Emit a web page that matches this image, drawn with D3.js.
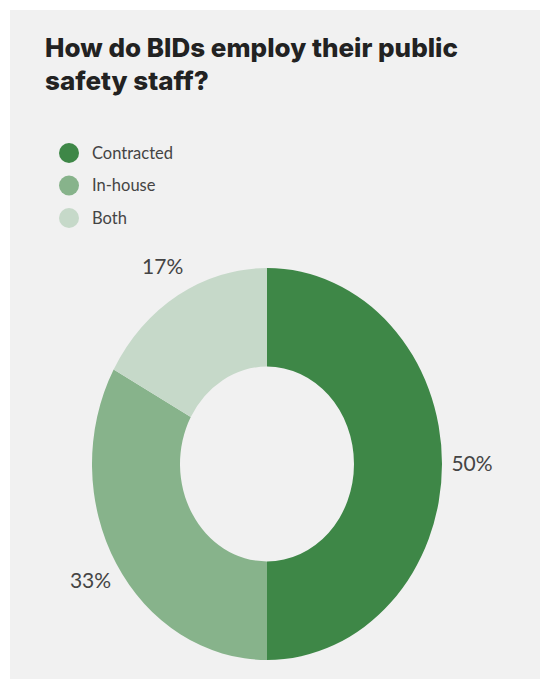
<!DOCTYPE html>
<html>
<head>
<meta charset="utf-8">
<script src="https://cdn.jsdelivr.net/npm/d3@7"></script>
<style>
    html, body { margin: 0; padding: 0; background: #ffffff; }
    svg { display: block; }
</style>
</head>
<body>
<div id="chart"></div>
<script>
const categories = ["Contracted", "In-house", "Both"];
const shares = [50, 33, 17];
const colors = ["#3e8747", "#87b38b", "#c6d9c9"];
const titleLines = ["How do BIDs employ their public", "safety staff?"];

const W = 540, H = 679;
const cx = 267, cy = 464;
const outerR = 175, innerR = 87;
const stretch = 1.12; // the picture is a bit taller than wide

const svg = d3.select('#chart')
    .append('svg')
    .attr('width', W)
    .attr('height', H);

// grey panel
svg.append('rect')
    .attr('x', 10)
    .attr('y', 10)
    .attr('width', W - 10)
    .attr('height', H - 10)
    .attr('fill', '#f1f1f1');

// title
svg.append('text')
    .attr('x', 45)
    .attr('y', 57)
    .style('font-family', 'Inter, sans-serif')
    .style('font-weight', '800')
    .style('font-size', '26px')
    .attr('fill', '#222')
    .selectAll('tspan')
    .data(titleLines)
    .enter().append('tspan')
    .attr('x', 45)
    .attr('dy', (d, i) => i === 0 ? 0 : 33)
    .text(d => d);

// legend
const legend = svg.append('g')
    .selectAll('g')
    .data(categories)
    .enter().append('g')
    .attr('transform', (d, i) => `translate(69,${153 + i * 32.5})`);

legend.append('circle')
    .attr('r', 10)
    .attr('fill', (d, i) => colors[i]);

legend.append('text')
    .attr('x', 23)
    .attr('dy', '0.35em')
    .style('font-family', 'Lato, sans-serif')
    .style('font-size', '16.5px')
    .attr('fill', '#444')
    .text(d => d);

// donut
const pie = d3.pie().sort(null).value(d => d);
const arcs = pie(shares);
const arc = d3.arc().innerRadius(innerR).outerRadius(outerR);

const donut = svg.append('g')
    .attr('transform', `translate(${cx},${cy}) scale(1,${stretch})`);

donut.selectAll('path')
    .data(arcs)
    .enter().append('path')
    .attr('d', arc)
    .attr('fill', (d, i) => colors[i]);

// percentage labels outside the ring
const labelR = 205;
svg.append('g')
    .selectAll('text')
    .data(arcs)
    .enter().append('text')
    .attr('x', d => {
        const a = (d.startAngle + d.endAngle) / 2;
        return cx + Math.sin(a) * labelR;
    })
    .attr('y', d => {
        const a = (d.startAngle + d.endAngle) / 2;
        return cy - Math.cos(a) * labelR * stretch;
    })
    .attr('dy', '0.35em')
    .attr('text-anchor', 'middle')
    .style('font-family', 'Lato, sans-serif')
    .style('font-size', '21px')
    .attr('fill', '#444')
    .text(d => d.data + '%');
</script>
</body>
</html>
